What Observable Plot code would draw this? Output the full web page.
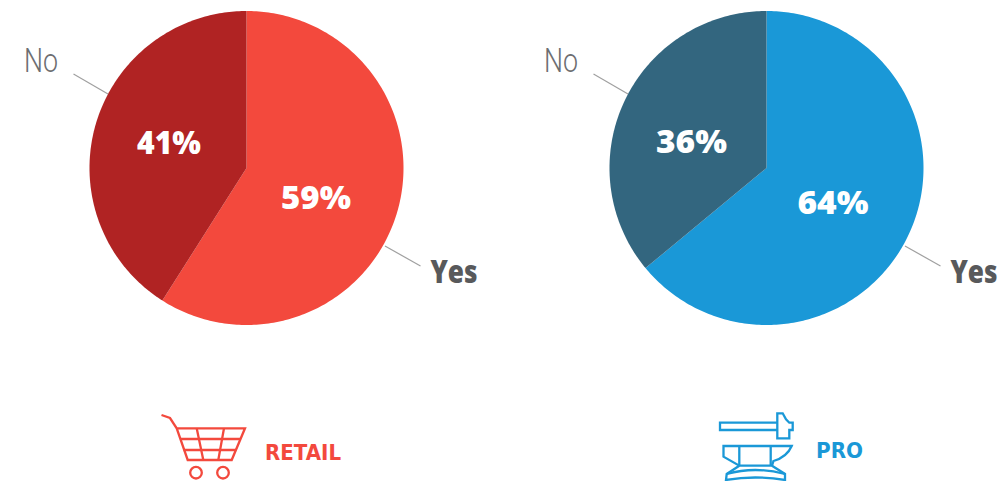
<!DOCTYPE html>
<html>
<head>
<meta charset="utf-8">
<script src="https://cdn.jsdelivr.net/npm/d3@7"></script>
<script src="https://cdn.jsdelivr.net/npm/@observablehq/plot@0.6"></script>
<style>
  html, body { margin: 0; padding: 0; background: #fff; }
  svg { display: block; }
</style>
</head>
<body>
<div id="chart"></div>
<script>
// Survey answers per customer segment, in percent
const answers = ["Yes", "No"];
const segments = ["RETAIL", "PRO"];
const retailShares = [59, 41];
const proShares = [64, 36];

// Colours: one pair of wedge tones per segment
const retailColors = ["#f3493d", "#b02323"];
const proColors = ["#1a98d7", "#33667f"];

// Layout of each pie, in pixels of the drawing
const radius = 157;
const pieLayouts = [
  {cx: 246, cy: 167.5, shares: retailShares, colors: retailColors,
   pct: [[69.5, 31.5], [-77.5, -23.5]], pctWidth: [70, 64], name: [302.5, 452.5], nameColor: "#f3493d"},
  {cx: 766, cy: 167.5, shares: proShares, colors: proColors,
   pct: [[66.5, 36], [-75, -24.5]], pctWidth: [71, 71], name: [839, 450.5], nameColor: "#1a98d7"}
];
// Answer labels and their leader lines, relative to the pie centre
const answerLabelOffsets = [[207.5, 105], [-205.5, -106.5]];
const leaderOffsets = [
  [[138.5, 78], [174, 98]],
  [[-138.5, -74], [-173, -94]]
];

// Wedge outlines, walking clockwise from twelve o'clock
function wedges(pie, i) {
  const points = [];
  let start = 0;
  pie.shares.forEach((share, j) => {
    const key = `${segments[i]}-${answers[j]}`;
    const end = start + share / 100 * 2 * Math.PI;
    points.push({key, color: pie.colors[j], x: pie.cx, y: pie.cy});
    const steps = Math.ceil(share * 4);
    for (let s = 0; s <= steps; ++s) {
      const a = start + (end - start) * s / steps;
      points.push({key, color: pie.colors[j],
        x: pie.cx + radius * Math.sin(a), y: pie.cy - radius * Math.cos(a)});
    }
    start = end;
  });
  return points;
}

const wedgePoints = pieLayouts.flatMap(wedges);

const pctLabels = pieLayouts.flatMap(p => p.shares.map((s, j) => ({
  text: `${s}%`, width: p.pctWidth[j], x: p.cx + p.pct[j][0], y: p.cy + p.pct[j][1]
})));

const answerLabels = pieLayouts.flatMap(p => answers.map((a, j) => ({
  text: a, j, x: p.cx + answerLabelOffsets[j][0], y: p.cy + answerLabelOffsets[j][1]
})));

const leaders = pieLayouts.flatMap(p => leaderOffsets.map(l => ({
  x1: p.cx + l[0][0], y1: p.cy + l[0][1], x2: p.cx + l[1][0], y2: p.cy + l[1][1]
})));

const nameLabels = pieLayouts.map((p, i) => ({
  text: segments[i], x: p.name[0], y: p.name[1], color: p.nameColor
}));

// Shopping cart and hammer-over-anvil pictograms, as plain stroked outlines
function icon(markup, colour) {
  return () => {
    const g = d3.create("svg:g")
      .attr("fill", "none")
      .attr("stroke", colour)
      .attr("stroke-width", 2.3)
      .attr("stroke-linejoin", "miter");
    g.html(markup);
    return g.node();
  };
}

const cartIcon = icon(`
  <path d="M161.5 415 L170 418 L176.7 428.3 L187.7 460 H231.7 L245 428.3 H176.7"/>
  <path d="M180.3 439 H240.5 M183.7 450 H236"/>
  <path d="M196.7 428.3 L203.3 460 M224 428.3 L218.3 460"/>
  <circle cx="196" cy="472.7" r="5.8"/>
  <circle cx="223" cy="472.7" r="5.8"/>`, "#f3493d");

const anvilIcon = icon(`
  <path d="M777.3 422.7 H720 V430 H777.3"/>
  <path d="M777.3 413.3 H782.7 L786 419.3 L789.3 422.7 H792.7 V430 H789.3 V438.3 H777.3 Z"/>
  <path d="M723.5 446 V456.7 L739.3 465.7 H772 L773.5 461 Q787 457 791.7 446 Z"/>
  <path d="M739.3 446 V465.7 M770.7 446 V465.7"/>
  <path d="M739.3 465.7 L726.7 474 L726 480 Q755 475 785 480 V474 L772 465.7"/>
  <path d="M726.7 474 Q755 466 785 474"/>`, "#1a98d7");

const chart = Plot.plot({
  width: 1008,
  height: 481,
  margin: 0,
  x: {domain: [0, 1008], range: [0, 1008], axis: null},
  y: {domain: [0, 481], range: [0, 481], axis: null},
  style: {background: "transparent"},
  marks: [
    Plot.line(wedgePoints, {
      x: "x", y: "y", z: "key", fill: d => d.color, stroke: "none", curve: "linear-closed"
    }),
    Plot.link(leaders, {
      x1: "x1", y1: "y1", x2: "x2", y2: "y2", stroke: "#a0a0a0", strokeWidth: 1.2
    }),
    Plot.text(pctLabels, {
      x: "x", y: "y", text: "text", fill: "white",
      fontFamily: "Open Sans", fontWeight: 800, fontSize: 31, className: "pct"
    }),
    Plot.text(answerLabels.filter(d => d.j === 0), {
      x: "x", y: "y", text: "text", fill: "#58595b",
      fontFamily: "Open Sans", fontWeight: 800, fontSize: 32, className: "yes"
    }),
    Plot.text(answerLabels.filter(d => d.j === 1), {
      x: "x", y: "y", text: "text", fill: "#6d6e71",
      fontFamily: "Roboto", fontWeight: 300, fontSize: 33, className: "no"
    }),
    Plot.text(nameLabels, {
      x: "x", y: "y", text: "text", fill: d => d.color,
      fontFamily: "DejaVu Sans", fontWeight: 700, fontSize: 21, className: "name"
    }),
    cartIcon,
    anvilIcon
  ]
});

// The display faces run narrower or wider than the installed ones
const fitWidth = (selector, width) =>
  d3.select(chart).selectAll(selector).selectAll("text")
    .attr("textLength", width).attr("lengthAdjust", "spacingAndGlyphs");
fitWidth(".yes", 47);
fitWidth(".no", 34);
fitWidth(".pct", function() {
  return pctLabels.find(d => d.text === this.textContent).width;
});
fitWidth(".name", function() {
  return this.textContent === "RETAIL" ? 76 : 47;
});

document.getElementById("chart").appendChild(chart);
</script>
</body>
</html>
